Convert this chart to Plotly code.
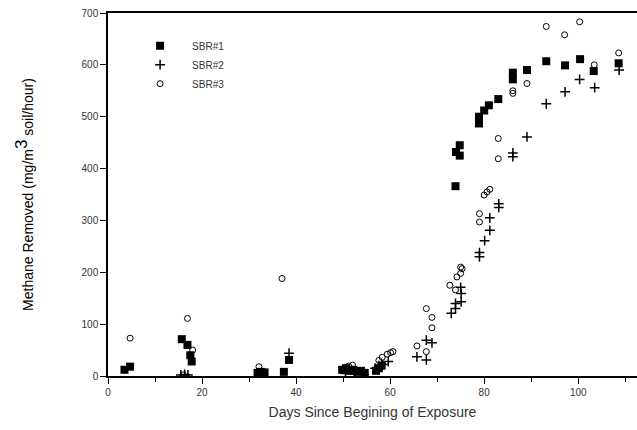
import plotly.graph_objects as go

# SBR#1 (filled squares)
sbr1_x = [3.5, 4.7, 15.7, 16.9, 17.5, 17.8, 31.8, 32.5, 33.3, 37.4, 38.5,
          49.8, 50.6, 51.4, 52.2, 53.0, 53.8, 54.6, 57.0, 57.6, 58.2,
          73.9, 74.0, 74.8, 74.8, 78.9, 78.9, 80.0, 81.0, 83.0, 86.1, 86.1,
          89.1, 93.2, 97.2, 100.4, 103.3, 108.6]
sbr1_y = [12, 18, 71, 60, 40, 28, 6, 8, 7, 8, 31,
          12, 15, 10, 12, 8, 10, 6, 10, 15, 20,
          366, 432, 445, 425, 487, 500, 512, 522, 534, 572, 585,
          590, 607, 599, 611, 588, 603]

# SBR#2 (plus signs)
sbr2_x = [15.5, 16.3, 17.0, 32.5, 38.5, 50.5, 52.5, 54.5, 56.8, 57.6, 58.4, 59.6,
          65.7, 67.7, 67.7, 68.9, 73.0, 73.9, 73.9, 75.1, 75.1, 75.0,
          79.0, 79.0, 80.1, 81.2, 81.2, 83.1, 83.1, 86.1, 86.1, 89.1,
          93.2, 97.2, 100.3, 103.5, 108.7]
sbr2_y = [2, 3, 2, 3, 44, 5, 4, 3, 15, 20, 22, 28,
          37, 31, 69, 64, 121, 130, 140, 143, 159, 171,
          230, 238, 261, 281, 305, 325, 332, 423, 430, 461,
          525, 548, 572, 556, 590]

# SBR#3 (open circles)
sbr3_x = [4.7, 16.0, 16.9, 18.0, 17.6, 32.1, 37.0, 50.2, 51.2, 52.0,
          57.6, 58.3, 59.4, 60.1, 60.6, 65.7, 67.7, 67.7, 68.9, 68.9,
          72.7, 73.9, 74.2, 75.0, 75.0, 75.3, 79.0, 79.0, 80.0, 80.6, 81.2,
          83.0, 83.0, 86.1, 86.1, 89.1, 93.2, 97.1, 100.3, 103.4, 108.6]
sbr3_y = [73, 2, 111, 50, 40, 18, 188, 15, 19, 21,
          30, 36, 42, 45, 47, 58, 47, 130, 113, 93,
          175, 166, 191, 198, 210, 207, 297, 313, 349, 355, 360,
          419, 458, 545, 550, 564, 674, 658, 683, 600, 623]

names = ["SBR#1", "SBR#2", "SBR#3"]
x_ticks = [0, 20, 40, 60, 80, 100]
y_ticks = [0, 100, 200, 300, 400, 500, 600, 700]

fig = go.Figure()
fig.add_trace(go.Scatter(x=sbr1_x, y=sbr1_y, mode="markers", name=names[0],
                         marker=dict(symbol="square", size=8, color="black")))
fig.add_trace(go.Scatter(x=sbr2_x, y=sbr2_y, mode="markers", name=names[1],
                         marker=dict(symbol="cross-thin-open", size=7, color="black",
                                     line=dict(color="black", width=1.5))))
fig.add_trace(go.Scatter(x=sbr3_x, y=sbr3_y, mode="markers", name=names[2],
                         marker=dict(symbol="circle-open", size=6, color="black",
                                     line=dict(color="black", width=1))))

font_light = "Liberation Sans"
fig.update_layout(
    width=637, height=430,
    margin=dict(l=108, r=0, t=13, b=54),
    paper_bgcolor="white", plot_bgcolor="white",
    font=dict(family=font_light, color="#222", size=10),
    legend=dict(x=0.038, y=0.95, xanchor="left", yanchor="top",
                bgcolor="rgba(0,0,0,0)", font=dict(size=10, color="#333"),
                itemwidth=54, tracegroupgap=0),
    xaxis=dict(range=[0, 112.5], tickvals=x_ticks, ticks="outside", ticklen=6,
               tickwidth=1.2, tickcolor="black", showgrid=False, zeroline=False,
               showline=True, linecolor="black", linewidth=1.5, mirror=True,
               automargin=False,
               minor=dict(dtick=10, ticks="outside", ticklen=4, tickcolor="black", tickwidth=1),
               tickfont=dict(size=10, color="#333"),
               title=dict(text="Days Since Begining of Exposure", standoff=10,
                          font=dict(size=14, color="#333"))),
    yaxis=dict(range=[0, 700], tickvals=y_ticks, ticks="outside", ticklen=6,
               tickwidth=1.2, tickcolor="black", showgrid=False, zeroline=False,
               showline=True, linecolor="black", linewidth=1.5,
               automargin=False,
               tickfont=dict(size=10, color="#333"),
               title=dict(text="Methane Removed (mg/m<sup><span style='font-size:17px'>3</span></sup> soil/hour)",
                          standoff=45, font=dict(size=14, color="black"))),
)

fig.write_html("out.html", config={"displayModeBar": False},
               post_script="document.body.style.margin='0px';")
